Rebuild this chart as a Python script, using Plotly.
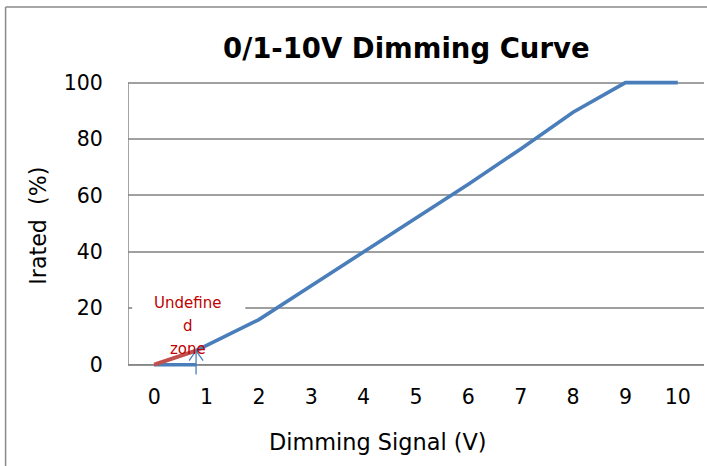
import plotly.graph_objects as go

# ---- data ----
signal_v = [0.8, 2, 3, 4, 5, 6, 7, 8, 9, 10]
irated_pct = [5, 16, 28, 40, 52, 64, 76.5, 89.5, 100, 100]
undef_x = [0, 0.8]          # undefined zone (red)
undef_y = [0, 5]
floor_x = [0, 0.8]          # blue floor segment
floor_y = [0, 0]
arrow_x = 0.8
arrow_tail_y = -3.5
arrow_tip_y = 5
x_ticks = list(range(0, 11))
y_ticks = [0, 20, 40, 60, 80, 100]
note_lines = ["Undefine", "d", "zone"]

# ---- layout geometry ----
W, H = 707, 466
L = 128
XR = [-0.5, 10.5]
YR = [-4, 102]
PXU = 52.4      # px per volt
PYU = 2.82      # px per percent
PW = (XR[1] - XR[0]) * PXU
PH = (YR[1] - YR[0]) * PYU
TOP = 83 - (YR[1] - 100) * PYU
BOTTOM = TOP + PH
R = W - L - PW
B = H - BOTTOM

def pxx(p):
    return (p - L) / PW

def pxy(p):
    return (BOTTOM - p) / PH

FONT = "DejaVu Sans"
BLUE = "#4A7EBB"
RED = "#C0504D"
GRID = "#A0A0A0"

fig = go.Figure()
fig.add_trace(go.Scatter(x=floor_x, y=floor_y, mode="lines",
                         line=dict(color=BLUE, width=3.5), hoverinfo="skip"))
fig.add_trace(go.Scatter(x=undef_x, y=undef_y, mode="lines",
                         line=dict(color=RED, width=4), hoverinfo="skip"))
fig.add_trace(go.Scatter(x=signal_v, y=irated_pct, mode="lines",
                         line=dict(color=BLUE, width=3.6)))
# arrow shaft + open head
hx, hy = 7 / PXU, 10 / PYU
fig.add_trace(go.Scatter(x=[arrow_x, arrow_x], y=[arrow_tail_y, arrow_tip_y], mode="lines",
                         line=dict(color=BLUE, width=1.3), hoverinfo="skip"))
fig.add_trace(go.Scatter(x=[arrow_x - hx, arrow_x, arrow_x + hx],
                         y=[arrow_tip_y - hy, arrow_tip_y, arrow_tip_y - hy], mode="lines",
                         line=dict(color=BLUE, width=1.3), hoverinfo="skip"))

shapes = [
    # text box background hiding the gridline
    dict(type="rect", xref="x", yref="y", x0=-0.42, x1=1.74, y0=16, y1=24,
         fillcolor="white", line=dict(width=0), layer="between"),
    # y axis line
    dict(type="line", xref="x", yref="y", x0=XR[0], x1=XR[0], y0=0, y1=100,
         line=dict(color="#868686", width=1.5), layer="between"),
    # x axis line at 0
    dict(type="line", xref="x", yref="y", x0=XR[0], x1=XR[1], y0=0, y1=0,
         line=dict(color="#868686", width=1.5), layer="between"),
    # chart frame (left and top edges visible)
    dict(type="line", xref="paper", yref="paper", x0=pxx(5.5), x1=pxx(5.5),
         y0=pxy(7.5), y1=pxy(470), line=dict(color="#8A8A8A", width=1.5), layer="above"),
    dict(type="line", xref="paper", yref="paper", x0=pxx(5.5), x1=pxx(710),
         y0=pxy(7.5), y1=pxy(7.5), line=dict(color="#8A8A8A", width=1.5), layer="above"),
]

annotations = [
    dict(text="<b>0/1-10V Dimming Curve</b>", xref="paper", yref="paper",
         x=pxx(407), y=pxy(48), showarrow=False, xanchor="center", yanchor="middle",
         font=dict(family=FONT, size=27.5, color="black")),
    dict(text="Dimming Signal (V)", xref="paper", yref="paper",
         x=pxx(378), y=pxy(442), showarrow=False, xanchor="center", yanchor="middle",
         font=dict(family=FONT, size=22.4, color="black")),
    dict(text="Irated  (%)", xref="paper", yref="paper", textangle=-90,
         x=pxx(38), y=pxy(226), showarrow=False, xanchor="center", yanchor="middle",
         font=dict(family=FONT, size=22.2, color="black")),
]
# note text, one line per annotation (Excel text-box line spacing)
for i, line in enumerate(note_lines):
    annotations.append(dict(text=line, xref="x", yref="paper", x=0.64,
                            y=pxy(303 + 23 * i), showarrow=False,
                            xanchor="center", yanchor="middle",
                            font=dict(family=FONT, size=15, color="#C00000")))

fig.update_layout(
    width=W, height=H,
    margin=dict(l=L, r=R, t=TOP, b=B, pad=0),
    paper_bgcolor="white", plot_bgcolor="white",
    showlegend=False,
    shapes=shapes, annotations=annotations,
    font=dict(family=FONT, size=20.5, color="black"),
    xaxis=dict(range=XR, tickvals=x_ticks, ticktext=[str(v) for v in x_ticks],
               showgrid=False, zeroline=False, showline=False,
               ticks="outside", ticklen=2, tickcolor="rgba(0,0,0,0)",
               tickfont=dict(family=FONT, size=20.5)),
    yaxis=dict(range=YR, tickvals=y_ticks, showgrid=True, gridcolor=GRID, gridwidth=1.5,
               zeroline=False, showline=False,
               ticks="outside", ticklen=20, tickcolor="rgba(0,0,0,0)",
               tickfont=dict(family=FONT, size=20.5)),
)

fig.write_html("out.html", config={"displayModeBar": False},
               post_script="document.body.style.margin='0';document.body.style.overflow='hidden';")
